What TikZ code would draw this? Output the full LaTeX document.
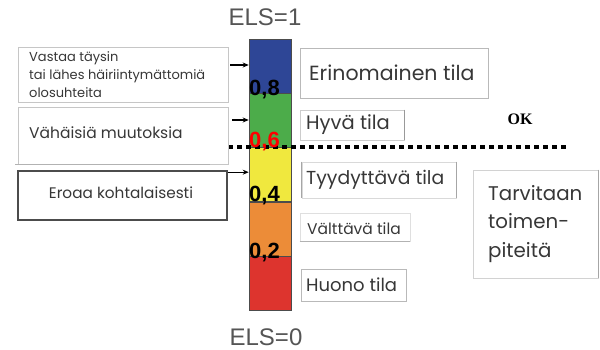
\documentclass[tikz,border=0pt]{standalone}
\usepackage{fontspec}
\setmainfont{Poppins}
\newfontfamily\arialf{Liberation Sans}
\newfontfamily\timesf{Liberation Serif}
\usetikzlibrary{arrows.meta}
\definecolor{cblue}{RGB}{46,70,150}
\definecolor{cgreen}{RGB}{76,172,74}
\definecolor{cyellow}{RGB}{240,232,62}
\definecolor{corange}{RGB}{236,140,56}
\definecolor{cred}{RGB}{221,52,46}
\definecolor{txtgray}{RGB}{55,55,55}
\definecolor{elsgray}{RGB}{85,85,85}
\tikzset{
  seg/.style={draw=black!70, line width=0.6pt, minimum width=42pt, minimum height=54.2pt, inner sep=0pt},
  num/.style={font=\arialf\bfseries\fontsize{22}{22}\selectfont, inner sep=0pt, anchor=west},
  lbox/.style={draw=gray!45, line width=0.8pt, inner sep=0pt},
  rbox/.style={draw=gray!55, line width=0.8pt, inner sep=0pt},
  btxt/.style={text=txtgray, inner sep=0pt},
  arr/.style={-{Stealth[length=6pt,width=5pt]}, line width=1.3pt, black},
  els/.style={font=\arialf\fontsize{24}{24}\selectfont, text=elsgray, inner sep=0pt}
}
\begin{document}
\begin{tikzpicture}[x=1pt,y=-1pt]
\useasboundingbox[fill=white] (0,0) rectangle (600,350);
% bar
\node[seg, fill=cblue]   (s5) at (270,66)  {};
\node[seg, fill=cgreen]  (s4) at (270,120) {};
\node[seg, fill=cyellow] (s3) at (270,174.5) {};
\node[seg, fill=corange] (s2) at (270,229) {};
\node[seg, fill=cred]    (s1) at (270,283) {};
% ELS labels
\node[els] (e1) at (265,17) {ELS=1};
\node[els] (e0) at (266,337) {ELS=0};
% dotted line
\coordinate (dl) at (228,147);
\coordinate (dr) at (566,147);
\draw[line width=4pt, dash pattern=on 4.5pt off 4.5pt] (dl) -- (dr);
% numbers
\node[num] (n8) at (249,90) {0,8};
\node[num, text=red] (n6) at (249,142) {0,6};
\node[num] (n4) at (249,196) {0,4};
\node[num] (n2) at (249,253) {0,2};
% OK
\node[font=\timesf\bfseries\fontsize{16}{16}\selectfont, inner sep=0pt] (ok) at (520,119) {OK};
% left boxes
\draw[lbox] (18,107) rectangle (228,164);
\draw[gray!60, line width=0.8pt] (15,164) -- (210,164);
\node[lbox, minimum width=210pt, minimum height=55pt] (b1) at (123,74.5) {};
\node[btxt, anchor=north west, align=left, font=\fontsize{13}{18}\selectfont] (t1) at (29,51)
  {Vastaa täysin\\tai lähes häiriintymättomiä\\olosuhteita};
\coordinate (b2) at (123,135);
\node[btxt, anchor=west, font=\fontsize{15.5}{15.5}\selectfont] (t2) at (29,133) {Vähäisiä muutoksia};
\node[draw=black!70, line width=1.6pt, minimum width=209pt, minimum height=49pt, inner sep=0pt] (b3) at (122.5,195.5) {};
\node[btxt, font=\fontsize{15.3}{15.3}\selectfont] (t3) at (121,193) {Eroaa kohtalaisesti};
% arrows
\coordinate (a1) at (230,65);
\coordinate (a2) at (232,120);
\draw[arr] (a1) -- (a1 -| s5.west);
\draw[arr] (a2) -- (a2 -| s4.west);
\draw[arr] (b3.north east) ++(0,2) coordinate (a3) -- (a3 -| s3.west);
% right boxes
\node[rbox, minimum width=188pt, minimum height=50pt] (r1) at (394,73) {};
\node[btxt, anchor=west, font=\fontsize{20.5}{20.5}\selectfont] at (309,73) {Erinomainen tila};
\node[rbox, draw=gray!40, minimum width=104pt, minimum height=30pt] (r2) at (352,125) {};
\draw[gray!80, line width=1pt] (r2.north east) -- (r2.south east);
\node[btxt, anchor=west, font=\fontsize{19.5}{19.5}\selectfont] at (306,125) {Hyvä tila};
\node[rbox, draw=gray!30, minimum width=154pt, minimum height=36pt] (r3) at (379,180) {};
\draw[gray!70, line width=1pt] (r3.north west) -- (r3.south west);
\draw[gray!70, line width=1pt] (r3.north east) -- (r3.south east);
\node[btxt, anchor=west, font=\fontsize{18.8}{18.8}\selectfont] at (306,180) {Tyydyttävä tila};
\node[rbox, draw=gray!25, minimum width=110pt, minimum height=28pt] (r4) at (355,227) {};
\draw[gray!60, line width=0.8pt] (r4.south west) -- (r4.south east);
\node[btxt, anchor=west, font=\fontsize{15.5}{15.5}\selectfont] at (307,229) {Välttävä tila};
\node[rbox, minimum width=105pt, minimum height=32pt] (r5) at (353.5,285) {};
\node[btxt, anchor=west, font=\fontsize{18}{18}\selectfont] at (306,285) {Huono tila};
\node[rbox, draw=gray!35, minimum width=125pt, minimum height=108pt] (r6) at (535.5,224) {};
\draw[gray!70, line width=1pt] (r6.north east) -- (r6.south east);
\node[btxt, anchor=west, align=left, font=\fontsize{19.8}{28.5}\selectfont] at (488,224) {Tarvitaan\\toimen-\\piteitä};
\end{tikzpicture}
\end{document}
